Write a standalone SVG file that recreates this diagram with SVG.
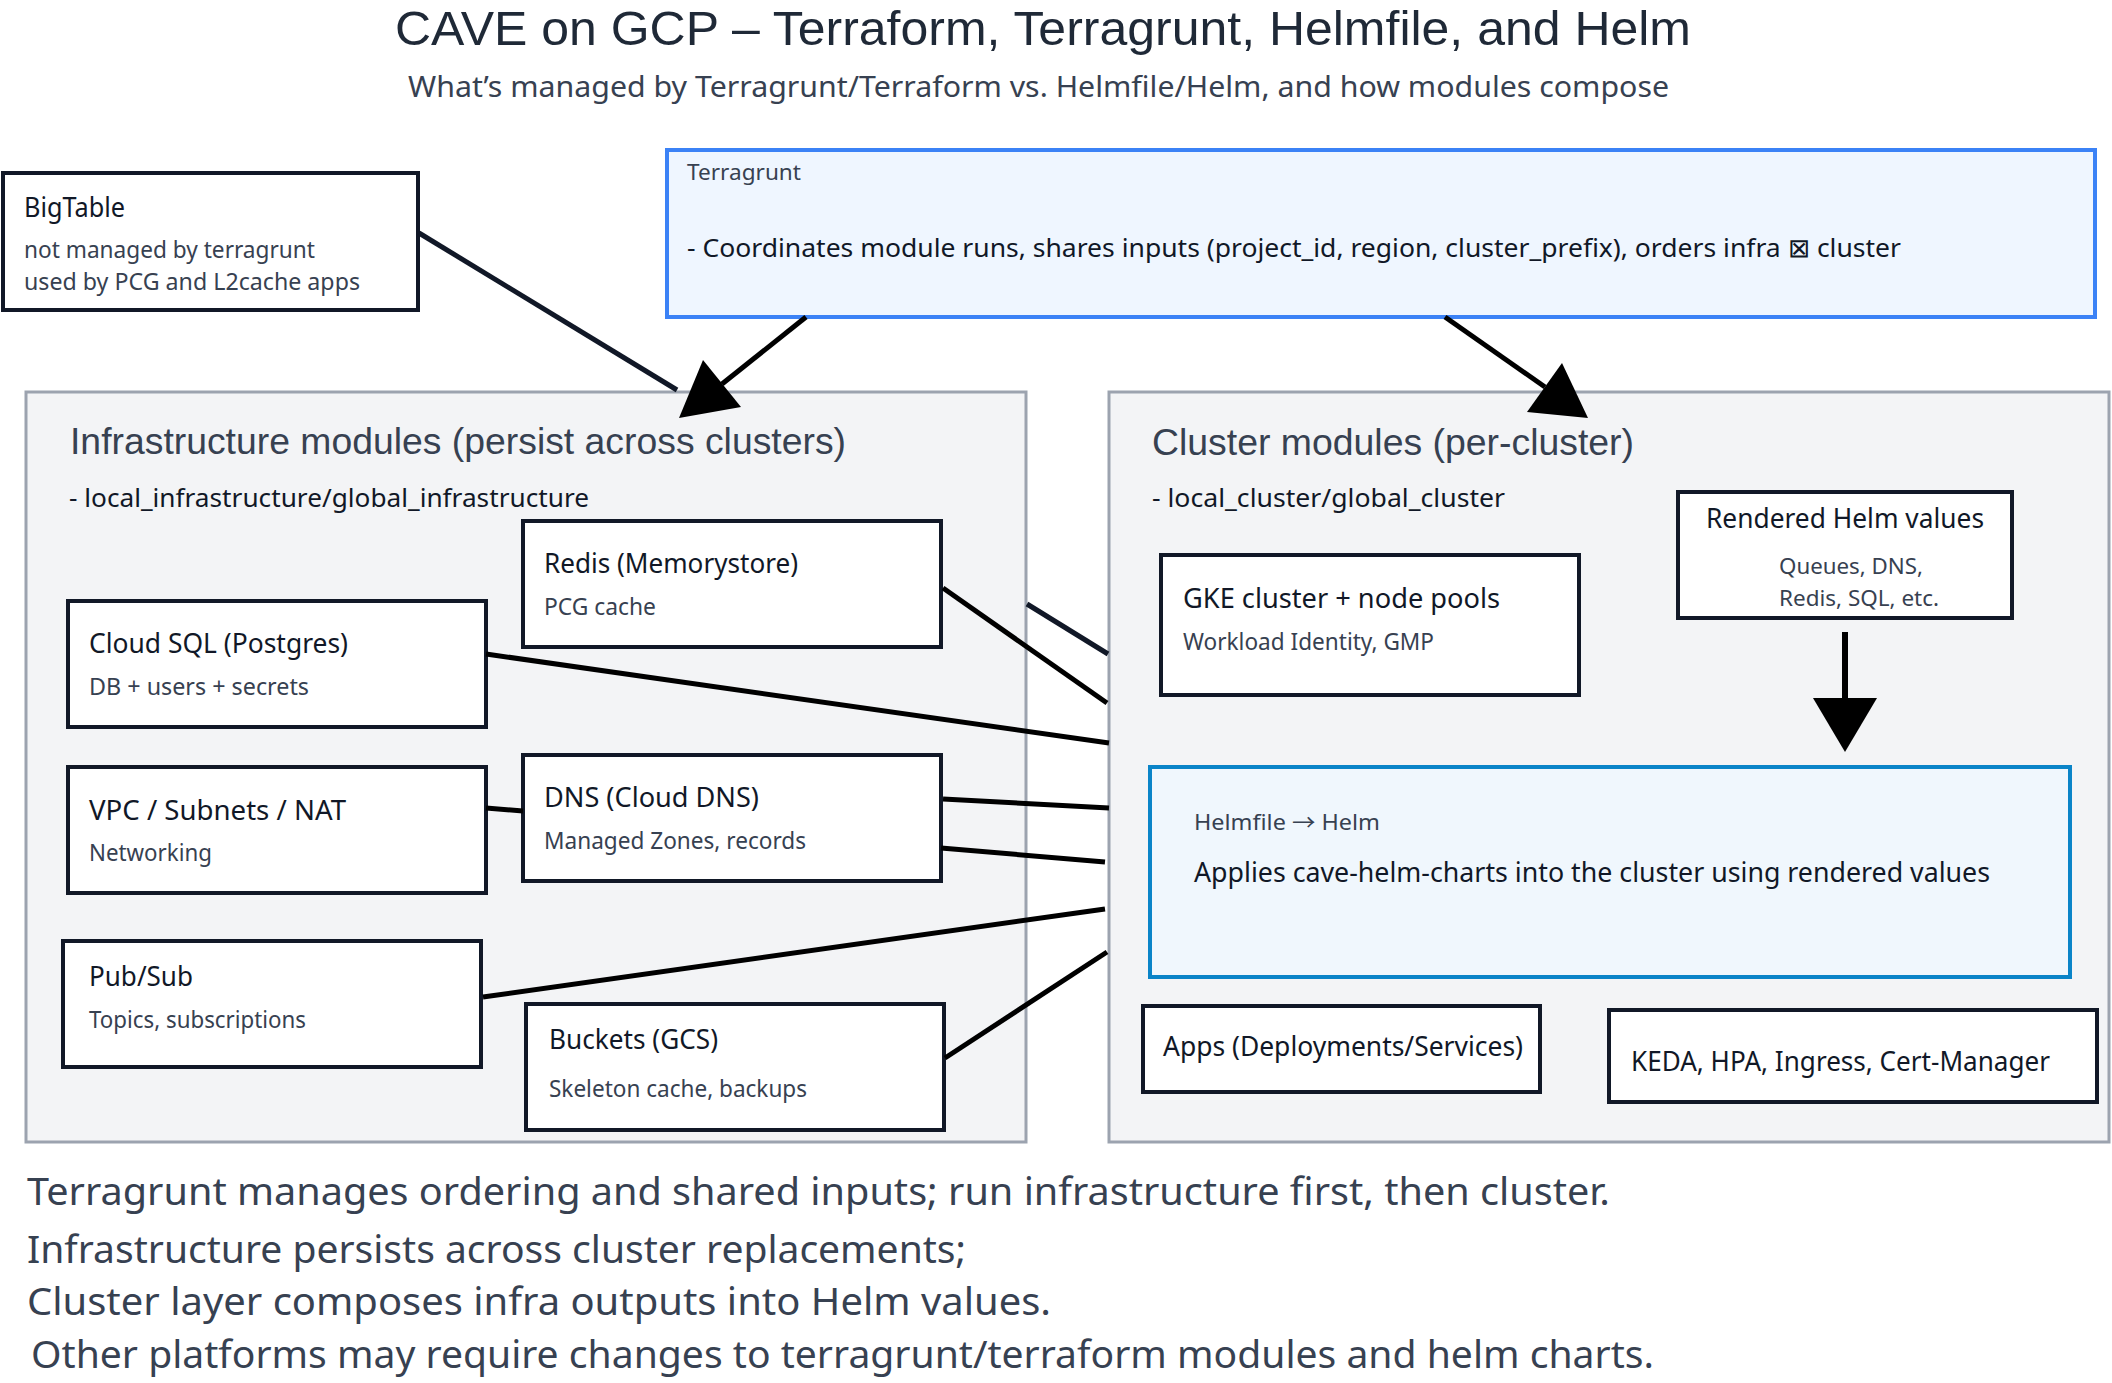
<svg xmlns="http://www.w3.org/2000/svg" width="2112" height="1383" viewBox="0 0 2112 1383">
<style>
text{font-family:"Noto Sans","Open Sans",sans-serif;}
.title{font-family:"Liberation Sans",Arial,sans-serif;font-size:48px;fill:#1f2937;}
.sub{font-size:29px;fill:#374151;}
.hdr{font-family:"Liberation Sans",Arial,sans-serif;font-size:37px;fill:#374151;}
.path{font-size:26px;fill:#111827;}
.nt{font-size:27px;fill:#111827;}
.ns{font-size:23px;fill:#374151;}
.ns2{font-size:22px;fill:#374151;}
.lbl{font-size:22px;fill:#374151;}
.arr{font-family:"Noto Sans CJK SC","DejaVu Sans",sans-serif;}
.big{font-size:26px;fill:#111827;}
.foot{font-size:38px;fill:#374151;}
.cont{fill:#f3f4f6;stroke:#9ca3af;stroke-width:3;}
.node{fill:#ffffff;stroke:#111827;stroke-width:4;}
.tg{fill:#eff6ff;stroke:#3b82f6;stroke-width:4;}
.hf{fill:#f0f7fd;stroke:#0a84c8;stroke-width:4;}
.ln{stroke:#000;stroke-width:5;fill:none;}
.lnv{stroke:#111827;stroke-width:5;fill:none;}
.head{fill:#000;}
</style>
<rect width="2112" height="1383" fill="#ffffff"/>
<g id="titles">
<text class="title" x="395" y="45" textLength="1296" lengthAdjust="spacingAndGlyphs">CAVE on GCP – Terraform, Terragrunt, Helmfile, and Helm</text>
<text class="sub" x="408" y="97" textLength="1261" lengthAdjust="spacingAndGlyphs">What’s managed by Terragrunt/Terraform vs. Helmfile/Helm, and how modules compose</text>
</g>
<g id="infra-container">
<rect class="cont" x="26" y="392" width="1000" height="750"/>
<text class="hdr" x="70" y="454" textLength="776" lengthAdjust="spacingAndGlyphs">Infrastructure modules (persist across clusters)</text>
<text class="path" x="69" y="507" textLength="520" lengthAdjust="spacingAndGlyphs">- local_infrastructure/global_infrastructure</text>
</g>
<g id="cluster-container">
<rect class="cont" x="1109" y="392" width="1000" height="750"/>
<text class="hdr" x="1152" y="455" textLength="482" lengthAdjust="spacingAndGlyphs">Cluster modules (per-cluster)</text>
<text class="path" x="1152" y="507" textLength="353" lengthAdjust="spacingAndGlyphs">- local_cluster/global_cluster</text>
</g>
<g id="bigtable">
<rect class="node" x="3" y="173" width="415" height="137"/>
<text class="nt" x="24" y="217" textLength="101" lengthAdjust="spacingAndGlyphs">BigTable</text>
<text class="ns" x="24" y="258" textLength="291" lengthAdjust="spacingAndGlyphs">not managed by terragrunt</text>
<text class="ns" x="24" y="290" textLength="336" lengthAdjust="spacingAndGlyphs">used by PCG and L2cache apps</text>
</g>
<g id="terragrunt">
<rect class="tg" x="667" y="150" width="1428" height="167"/>
<text class="lbl" x="687" y="180" textLength="114" lengthAdjust="spacingAndGlyphs">Terragrunt</text>
<text class="big" x="687" y="257" textLength="1214" lengthAdjust="spacingAndGlyphs">- Coordinates module runs, shares inputs (project_id, region, cluster_prefix), orders infra ⊠ cluster</text>
</g>
<g id="redis">
<rect class="node" x="523" y="521" width="418" height="126"/>
<text class="nt" x="544" y="573" textLength="254" lengthAdjust="spacingAndGlyphs">Redis (Memorystore)</text>
<text class="ns" x="544" y="615" textLength="112" lengthAdjust="spacingAndGlyphs">PCG cache</text>
</g>
<g id="cloudsql">
<rect class="node" x="68" y="601" width="418" height="126"/>
<text class="nt" x="89" y="653" textLength="259" lengthAdjust="spacingAndGlyphs">Cloud SQL (Postgres)</text>
<text class="ns" x="89" y="695" textLength="220" lengthAdjust="spacingAndGlyphs">DB + users + secrets</text>
</g>
<g id="vpc">
<rect class="node" x="68" y="767" width="418" height="126"/>
<text class="nt" x="89" y="820" textLength="257" lengthAdjust="spacingAndGlyphs">VPC / Subnets / NAT</text>
<text class="ns" x="89" y="861" textLength="123" lengthAdjust="spacingAndGlyphs">Networking</text>
</g>
<g id="dns">
<rect class="node" x="523" y="755" width="418" height="126"/>
<text class="nt" x="544" y="807" textLength="215" lengthAdjust="spacingAndGlyphs">DNS (Cloud DNS)</text>
<text class="ns" x="544" y="849" textLength="262" lengthAdjust="spacingAndGlyphs">Managed Zones, records</text>
</g>
<g id="pubsub">
<rect class="node" x="63" y="941" width="418" height="126"/>
<text class="nt" x="89" y="986" textLength="104" lengthAdjust="spacingAndGlyphs">Pub/Sub</text>
<text class="ns" x="89" y="1028" textLength="217" lengthAdjust="spacingAndGlyphs">Topics, subscriptions</text>
</g>
<g id="buckets">
<rect class="node" x="526" y="1004" width="418" height="126"/>
<text class="nt" x="549" y="1049" textLength="169" lengthAdjust="spacingAndGlyphs">Buckets (GCS)</text>
<text class="ns" x="549" y="1097" textLength="258" lengthAdjust="spacingAndGlyphs">Skeleton cache, backups</text>
</g>
<g id="gke">
<rect class="node" x="1161" y="555" width="418" height="140"/>
<text class="nt" x="1183" y="608" textLength="317" lengthAdjust="spacingAndGlyphs">GKE cluster + node pools</text>
<text class="ns" x="1183" y="650" textLength="251" lengthAdjust="spacingAndGlyphs">Workload Identity, GMP</text>
</g>
<g id="rendered-values">
<rect class="node" x="1678" y="492" width="334" height="126"/>
<text class="nt" x="1706" y="528" textLength="278" lengthAdjust="spacingAndGlyphs">Rendered Helm values</text>
<text class="ns2" x="1779" y="574" textLength="144" lengthAdjust="spacingAndGlyphs">Queues, DNS,</text>
<text class="ns2" x="1779" y="606" textLength="160" lengthAdjust="spacingAndGlyphs">Redis, SQL, etc.</text>
</g>
<g id="helmfile">
<rect class="hf" x="1150" y="767" width="920" height="210"/>
<text class="lbl" x="1194" y="830" textLength="186" lengthAdjust="spacingAndGlyphs">Helmfile <tspan class="arr">→</tspan> Helm</text>
<text class="nt" x="1194" y="882" textLength="796" lengthAdjust="spacingAndGlyphs">Applies cave-helm-charts into the cluster using rendered values</text>
</g>
<g id="apps">
<rect class="node" x="1143" y="1006" width="397" height="86"/>
<text class="nt" x="1163" y="1056" textLength="360" lengthAdjust="spacingAndGlyphs">Apps (Deployments/Services)</text>
</g>
<g id="keda">
<rect class="node" x="1609" y="1010" width="488" height="92"/>
<text class="nt" x="1631" y="1071" textLength="419" lengthAdjust="spacingAndGlyphs">KEDA, HPA, Ingress, Cert-Manager</text>
</g>
<g id="connectors">
<line class="lnv" x1="419" y1="233" x2="677" y2="390"/>
<line class="ln" x1="806" y1="317" x2="722" y2="384"/>
<polygon class="head" points="679,418 741,407 703,360"/>
<line class="ln" x1="1445" y1="317" x2="1545" y2="387"/>
<polygon class="head" points="1588,418 1527,412 1562,363"/>
<line class="ln" x1="1845" y1="632" x2="1845" y2="700" style="stroke-width:6"/>
<polygon class="head" points="1813,698 1877,698 1845,752"/>
<line class="ln" x1="943" y1="588" x2="1107" y2="703"/>
<line class="lnv" x1="1027" y1="604" x2="1108" y2="654"/>
<line class="ln" x1="486" y1="654" x2="1109" y2="743"/>
<line class="ln" x1="486" y1="808" x2="523" y2="811"/>
<line class="ln" x1="943" y1="799" x2="1109" y2="808"/>
<line class="ln" x1="941" y1="848" x2="1105" y2="862"/>
<line class="ln" x1="483" y1="997" x2="1105" y2="909"/>
<line class="ln" x1="945" y1="1058" x2="1107" y2="952"/>
</g>
<g id="notes">
<text class="foot" x="27" y="1205" textLength="1583" lengthAdjust="spacingAndGlyphs">Terragrunt manages ordering and shared inputs; run infrastructure first, then cluster.</text>
<text class="foot" x="27" y="1263" textLength="939" lengthAdjust="spacingAndGlyphs">Infrastructure persists across cluster replacements;</text>
<text class="foot" x="27" y="1315" textLength="1024" lengthAdjust="spacingAndGlyphs">Cluster layer composes infra outputs into Helm values.</text>
<text class="foot" x="31" y="1368" textLength="1623" lengthAdjust="spacingAndGlyphs">Other platforms may require changes to terragrunt/terraform modules and helm charts.</text>
</g>
</svg>
